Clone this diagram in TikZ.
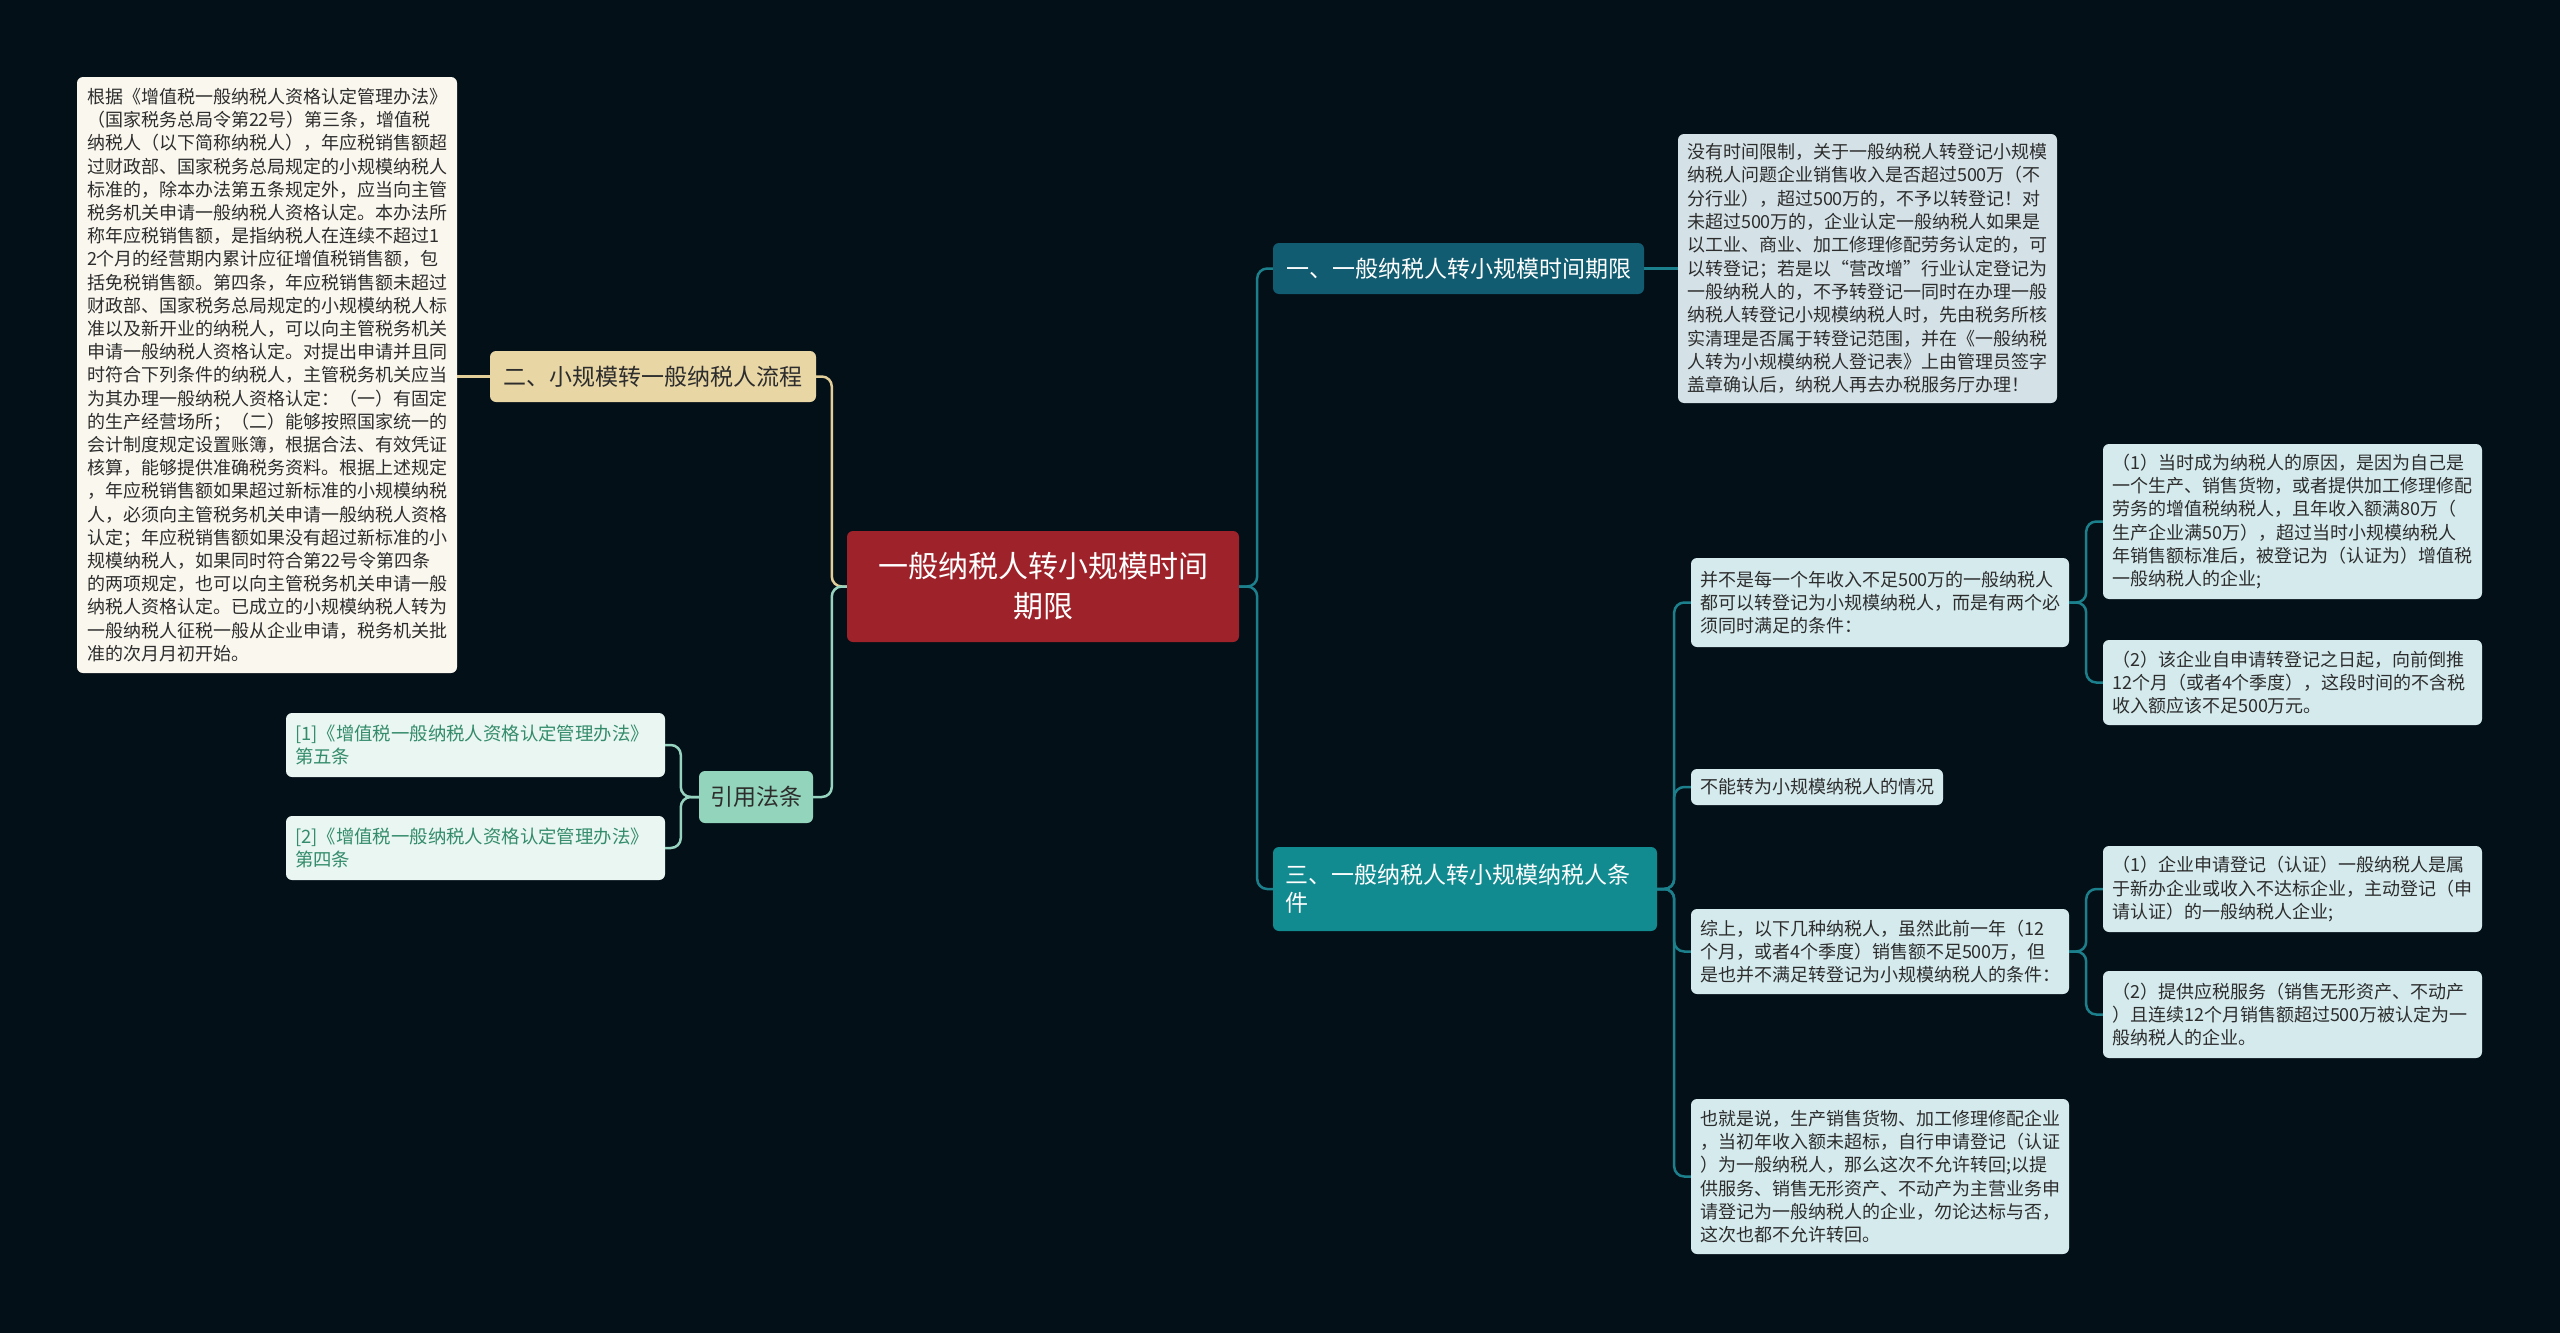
\documentclass[tikz,border=0pt]{standalone}
\usepackage{fontspec}
\setmainfont{Noto Sans CJK SC}
\usepackage{tikz}
\definecolor{bgdark}{RGB}{4,16,24}
\definecolor{rootred}{RGB}{158,34,41}
\definecolor{beige}{RGB}{232,214,165}
\definecolor{cream}{RGB}{250,247,238}
\definecolor{mint}{RGB}{147,213,188}
\definecolor{mintpale}{RGB}{233,246,241}
\definecolor{refgreen}{RGB}{52,140,108}
\definecolor{petrol}{RGB}{17,92,112}
\definecolor{tealbox}{RGB}{18,139,144}
\definecolor{greyblue}{RGB}{212,226,231}
\definecolor{paleblue}{RGB}{212,234,237}
\definecolor{textdark}{RGB}{45,45,45}
\definecolor{linkteal}{RGB}{28,128,140}
\definecolor{linkbeige}{RGB}{226,206,152}
\definecolor{linkmint}{RGB}{150,212,192}
\tikzstyle{rootbox} = [rectangle, rounded corners=6pt, fill=rootred, text=white, align=center, minimum width=392pt, minimum height=111pt, font=\fontsize{30}{40}\selectfont]
\tikzstyle{topicbeige} = [rectangle, rounded corners=6pt, fill=beige, text=textdark, minimum height=51pt, font=\fontsize{23}{28}\selectfont]
\tikzstyle{topicmint} = [rectangle, rounded corners=6pt, fill=mint, text=textdark, minimum height=52pt, font=\fontsize{23}{28}\selectfont]
\tikzstyle{topicteal} = [rectangle, rounded corners=6pt, text=white, font=\fontsize{23}{28}\selectfont]
\tikzstyle{leaf} = [rectangle, rounded corners=6pt, fill=paleblue, text=textdark, align=left, text width=361pt, inner xsep=9pt, inner ysep=0pt, font=\fontsize{18}{23.3}\selectfont]
\tikzstyle{refleaf} = [rectangle, rounded corners=6pt, fill=mintpale, text=refgreen, align=left, text width=361pt, inner xsep=9pt, minimum height=64pt, font=\fontsize{18.4}{23}\selectfont]
\tikzstyle{tealline} = [draw=linkteal, line width=2.5pt, rounded corners=10pt]
\tikzstyle{beigeline} = [draw=linkbeige, line width=2.5pt, rounded corners=10pt]
\tikzstyle{mintline} = [draw=linkmint, line width=2.5pt, rounded corners=10pt]

\begin{document}
\begin{tikzpicture}[x=1pt,y=-1pt]
    \fill [bgdark] (0,0) rectangle (2560,1333);
    \useasboundingbox (0,0) rectangle (2560,1333);

    % centre
    \node (root) [rootbox] at (1043,586.5) {一般纳税人转小规模时间\\期限};

    % left side
    \node (liucheng) [topicbeige, minimum width=326pt] at (653,376.5) {二、小规模转一般纳税人流程};
    \node (liuchengtxt) [leaf, fill=cream, text width=360pt, inner xsep=10pt, minimum height=596pt, font=\fontsize{18}{23.2}\selectfont] at (267,375) {根据《增值税一般纳税人资格认定管理办法》\\（国家税务总局令第22号）第三条，增值税\\纳税人（以下简称纳税人），年应税销售额超\\过财政部、国家税务总局规定的小规模纳税人\\标准的，除本办法第五条规定外，应当向主管\\税务机关申请一般纳税人资格认定。本办法所\\称年应税销售额，是指纳税人在连续不超过1\\2个月的经营期内累计应征增值税销售额，包\\括免税销售额。第四条，年应税销售额未超过\\财政部、国家税务总局规定的小规模纳税人标\\准以及新开业的纳税人，可以向主管税务机关\\申请一般纳税人资格认定。对提出申请并且同\\时符合下列条件的纳税人，主管税务机关应当\\为其办理一般纳税人资格认定：（一）有固定\\的生产经营场所；（二）能够按照国家统一的\\会计制度规定设置账簿，根据合法、有效凭证\\核算，能够提供准确税务资料。根据上述规定\\，年应税销售额如果超过新标准的小规模纳税\\人，必须向主管税务机关申请一般纳税人资格\\认定；年应税销售额如果没有超过新标准的小\\规模纳税人，如果同时符合第22号令第四条\\的两项规定，也可以向主管税务机关申请一般\\纳税人资格认定。已成立的小规模纳税人转为\\一般纳税人征税一般从企业申请，税务机关批\\准的次月月初开始。};
    \node (yinyong) [topicmint, minimum width=114pt] at (756,797) {引用法条};
    \node (ref1) [refleaf] at (475.5,745) {[1]《增值税一般纳税人资格认定管理办法》\\第五条};
    \node (ref2) [refleaf] at (475.5,848) {[2]《增值税一般纳税人资格认定管理办法》\\第四条};

    % right side
    \node (qixian) [topicteal, fill=petrol, minimum width=371pt, minimum height=51pt] at (1458.5,268.5) {一、一般纳税人转小规模时间期限};
    \node (qixiantxt) [leaf, fill=greyblue, minimum height=269pt] at (1867.5,268.5) {没有时间限制，关于一般纳税人转登记小规模\\纳税人问题企业销售收入是否超过500万（不\\分行业），超过500万的，不予以转登记！对\\未超过500万的，企业认定一般纳税人如果是\\以工业、商业、加工修理修配劳务认定的，可\\以转登记；若是以“营改增”行业认定登记为\\一般纳税人的，不予转登记一同时在办理一般\\纳税人转登记小规模纳税人时，先由税务所核\\实清理是否属于转登记范围，并在《一般纳税\\人转为小规模纳税人登记表》上由管理员签字\\盖章确认后，纳税人再去办税服务厅办理！};

    \node (tiaojian) [topicteal, fill=tealbox, align=left, text width=360pt, inner xsep=12pt, minimum height=84pt] at (1465,889) {三、一般纳税人转小规模纳税人条\\件};
    \node (tjA) [leaf, text width=360pt, minimum height=89pt] at (1880,602.5) {并不是每一个年收入不足500万的一般纳税人\\都可以转登记为小规模纳税人，而是有两个必\\须同时满足的条件：};
    \node (tjB) [leaf, text width=234pt, minimum height=36pt] at (1817,787) {不能转为小规模纳税人的情况};
    \node (tjC) [leaf, text width=360pt, minimum height=85pt] at (1880,951.5) {综上，以下几种纳税人，虽然此前一年（12\\个月，或者4个季度）销售额不足500万，但\\是也并不满足转登记为小规模纳税人的条件：};
    \node (tjD) [leaf, text width=360pt, minimum height=155pt] at (1880,1176.5) {也就是说，生产销售货物、加工修理修配企业\\，当初年收入额未超标，自行申请登记（认证\\）为一般纳税人，那么这次不允许转回;以提\\供服务、销售无形资产、不动产为主营业务申\\请登记为一般纳税人的企业，勿论达标与否，\\这次也都不允许转回。};
    \node (tjA1) [leaf, minimum height=155pt] at (2292.5,521.5) {（1）当时成为纳税人的原因，是因为自己是\\一个生产、销售货物，或者提供加工修理修配\\劳务的增值税纳税人，且年收入额满80万（\\生产企业满50万），超过当时小规模纳税人\\年销售额标准后，被登记为（认证为）增值税\\一般纳税人的企业;};
    \node (tjA2) [leaf, minimum height=85pt] at (2292.5,682.5) {（2）该企业自申请转登记之日起，向前倒推\\12个月（或者4个季度），这段时间的不含税\\收入额应该不足500万元。};
    \node (tjC1) [leaf, minimum height=86pt] at (2292.5,889) {（1）企业申请登记（认证）一般纳税人是属\\于新办企业或收入不达标企业，主动登记（申\\请认证）的一般纳税人企业;};
    \node (tjC2) [leaf, minimum height=87pt] at (2292.5,1014.5) {（2）提供应税服务（销售无形资产、不动产\\）且连续12个月销售额超过500万被认定为一\\般纳税人的企业。};

    % connectors
    \draw [beigeline] (root.west) -- ++(-15,0) |- (liucheng.east);
    \draw [mintline] (root.west) -- ++(-15,0) |- (yinyong.east);
    \draw [beigeline] (liucheng.west) -- (liucheng.west -| liuchengtxt.east);
    \draw [mintline] (yinyong.west) -- ++(-18,0) |- (ref1.east);
    \draw [mintline] (yinyong.west) -- ++(-18,0) |- (ref2.east);

    \draw [tealline] (root.east) -- ++(18,0) |- (qixian.west);
    \draw [tealline] (root.east) -- ++(18,0) |- (tiaojian.west);
    \draw [tealline] (qixian.east) -- (qixiantxt.west);
    \draw [tealline] (tiaojian.east) -- ++(17,0) |- (tjA.west);
    \draw [tealline] (tiaojian.east) -- ++(17,0) |- (tjB.west);
    \draw [tealline] (tiaojian.east) -- ++(17,0) |- (tjC.west);
    \draw [tealline] (tiaojian.east) -- ++(17,0) |- (tjD.west);
    \draw [tealline] (tjA.east) -- ++(17,0) |- (tjA1.west);
    \draw [tealline] (tjA.east) -- ++(17,0) |- (tjA2.west);
    \draw [tealline] (tjC.east) -- ++(17,0) |- (tjC1.west);
    \draw [tealline] (tjC.east) -- ++(17,0) |- (tjC2.west);
\end{tikzpicture}
\end{document}
